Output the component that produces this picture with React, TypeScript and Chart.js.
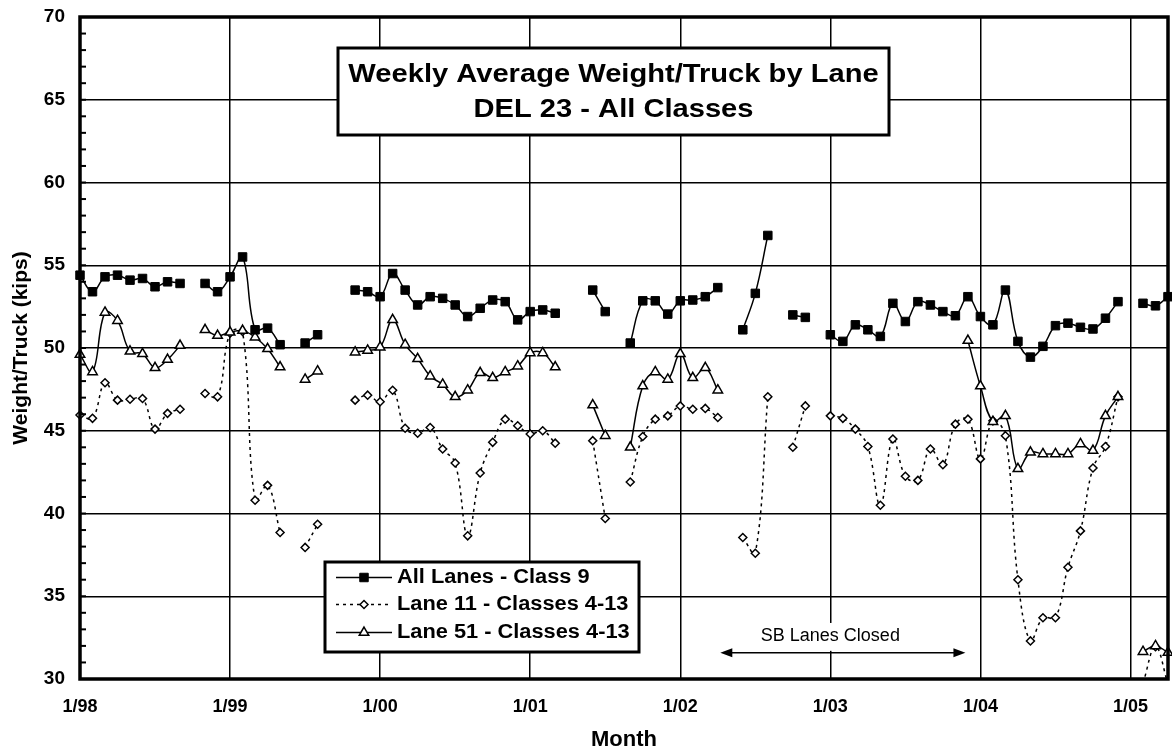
import React, { useEffect, useRef } from 'react';
import { Chart, registerables } from 'chart.js';

Chart.register(...registerables);

// Month offsets from January 1998 (one point per month)
const months: number[] = Array.from({ length: 88 }, (_, i) => i);

const xTickMonths = [0, 12, 24, 36, 48, 60, 72, 84];
const xTickLabels = ['1/98', '1/99', '1/00', '1/01', '1/02', '1/03', '1/04', '1/05'];

const yMin = 30;
const yMax = 70;
const yStep = 5;

const seriesNames = ['All Lanes - Class 9', 'Lane 11 - Classes 4-13', 'Lane 51 - Classes 4-13'];

// All Lanes - Class 9 (kips)
const allLanesClass9: (number | null)[] = [
  54.4, 53.4, 54.3, 54.4, 54.1, 54.2, 53.7, 54.0, 53.9, null,
  53.9, 53.4, 54.3, 55.5, 51.1, 51.2, 50.2, null, 50.3, 50.8,
  null, null, 53.5, 53.4, 53.1, 54.5, 53.5, 52.6, 53.1, 53.0,
  52.6, 51.9, 52.4, 52.9, 52.8, 51.7, 52.2, 52.3, 52.1, null,
  null, 53.5, 52.2, null, 50.3, 52.85, 52.85, 52.05, 52.85, 52.9,
  53.1, 53.65, null, 51.1, 53.3, 56.8, null, 52.0, 51.85, null,
  50.8, 50.4, 51.4, 51.1, 50.7, 52.7, 51.6, 52.8, 52.6, 52.2,
  51.95, 53.1, 51.9, 51.4, 53.5, 50.4, 49.45, 50.1, 51.35, 51.5,
  51.25, 51.15, 51.8, 52.8, null, 52.7, 52.55, 53.1,
];

// Lane 11 - Classes 4-13 (kips)
const lane11: (number | null)[] = [
  45.95, 45.75, 47.9, 46.85, 46.9, 46.95, 45.1, 46.05, 46.3, null,
  47.25, 47.05, 50.9, 51.0, 40.8, 41.7, 38.85, null, 37.95, 39.35,
  null, null, 46.85, 47.15, 46.75, 47.45, 45.15, 44.85, 45.2, 43.9,
  43.05, 38.65, 42.45, 44.3, 45.7, 45.3, 44.8, 45.0, 44.25, null,
  null, 44.4, 39.7, null, 41.9, 44.65, 45.7, 45.9, 46.5, 46.3,
  46.35, 45.8, null, 38.55, 37.6, 47.05, null, 44.0, 46.5, null,
  45.9, 45.75, 45.1, 44.05, 40.5, 44.5, 42.25, 42.0, 43.9, 42.95,
  45.4, 45.7, 43.3, 45.6, 44.7, 36.0, 32.3, 33.7, 33.7, 36.75,
  38.95, 42.75, 44.05, 47.05, null, 29.75, 31.95, 29.7,
];

// Lane 51 - Classes 4-13 (kips)
const lane51: (number | null)[] = [
  49.6, 48.55, 52.15, 51.65, 49.8, 49.65, 48.8, 49.3, 50.15, null,
  51.1, 50.75, 50.95, 51.05, 50.65, 49.95, 48.85, null, 48.1, 48.6,
  null, null, 49.75, 49.85, 50.05, 51.7, 50.2, 49.35, 48.3, 47.8,
  47.05, 47.45, 48.5, 48.2, 48.55, 48.9, 49.7, 49.7, 48.85, null,
  null, 46.55, 44.7, null, 44.0, 47.7, 48.55, 48.1, 49.65, 48.2,
  48.8, 47.45, null, null, null, null, null, null, null, null,
  null, null, null, null, null, null, null, null, null, null,
  null, 50.45, 47.7, 45.55, 45.9, 42.7, 43.7, 43.6, 43.6, 43.6,
  44.2, 43.8, 45.9, 47.05, null, 31.65, 32.0, 31.6,
];

const titleLines = ['Weekly Average Weight/Truck by Lane', 'DEL 23 - All Classes'];
const annotationText = 'SB Lanes Closed';
const annotationStartMonth = 51.2;
const annotationEndMonth = 70.8;
const annotationTextMonth = 60;
const annotationTextValue = 32.6;
const annotationArrowValue = 31.58;

const FONT = "'Liberation Sans', Arial, Helvetica, sans-serif";
const PLOT_RIGHT_MARGIN = 4;

function drawMarker(ctx: CanvasRenderingContext2D, style: string, x: number, y: number) {
  ctx.save();
  ctx.strokeStyle = '#000';
  ctx.setLineDash([]);
  if (style === 'rect') {
    const s = Math.SQRT1_2 * 6;
    ctx.fillStyle = '#000';
    ctx.lineWidth = 1;
    ctx.beginPath();
    ctx.rect(x - s, y - s, 2 * s, 2 * s);
    ctx.fill();
    ctx.stroke();
  } else if (style === 'rectRot') {
    const r = 4;
    ctx.fillStyle = '#fff';
    ctx.lineWidth = 1.5;
    ctx.beginPath();
    ctx.moveTo(x - r, y);
    ctx.lineTo(x, y - r);
    ctx.lineTo(x + r, y);
    ctx.lineTo(x, y + r);
    ctx.closePath();
    ctx.fill();
    ctx.stroke();
  } else {
    const r = 5.5;
    ctx.fillStyle = '#fff';
    ctx.lineWidth = 1.5;
    ctx.beginPath();
    ctx.moveTo(x, y - r);
    ctx.lineTo(x + r * Math.sin((2 * Math.PI) / 3), y - r * Math.cos((2 * Math.PI) / 3));
    ctx.lineTo(x + r * Math.sin((4 * Math.PI) / 3), y - r * Math.cos((4 * Math.PI) / 3));
    ctx.closePath();
    ctx.fill();
    ctx.stroke();
  }
  ctx.restore();
}

function scaledText(
  ctx: CanvasRenderingContext2D,
  text: string,
  x: number,
  y: number,
  font: string,
  sx: number,
  align: CanvasTextAlign
) {
  ctx.save();
  ctx.translate(x, y);
  ctx.scale(sx, 1);
  ctx.font = font;
  ctx.fillStyle = '#000';
  ctx.textAlign = align;
  ctx.textBaseline = 'middle';
  ctx.fillText(text, 0, 0);
  ctx.restore();
}

const overlayPlugin = {
  id: 'overlay',
  afterLayout(chart: any) {
    const a = chart.chartArea;
    const target = chart.width - PLOT_RIGHT_MARGIN;
    if (a && Math.abs(a.right - target) > 0.01) {
      a.right = target;
      a.width = a.right - a.left;
      const xs = chart.scales.x;
      xs.right = target;
      xs.width = xs.right - xs.left;
      xs.configure();
    }
  },
  beforeDraw(chart: any) {
    const { ctx, width, height } = chart;
    ctx.save();
    ctx.fillStyle = '#fff';
    ctx.fillRect(0, 0, width, height);
    ctx.restore();
  },
  afterDraw(chart: any) {
    const { ctx, chartArea: a, scales } = chart;
    const xs = scales.x;
    const ys = scales.y;
    ctx.save();

    // minor ticks on the y axis (inside)
    ctx.strokeStyle = '#000';
    ctx.lineWidth = 2;
    for (let v = yMin; v <= yMax; v += 1) {
      const py = ys.getPixelForValue(v);
      ctx.beginPath();
      ctx.moveTo(a.left, py);
      ctx.lineTo(a.left + 6, py);
      ctx.stroke();
    }

    // plot border
    ctx.lineWidth = 3.5;
    ctx.strokeRect(a.left, a.top, a.right - a.left, a.bottom - a.top);

    // title box
    const tb = { l: a.left + 258, t: a.top + 31, r: a.left + 809, b: a.top + 118 };
    ctx.fillStyle = '#fff';
    ctx.fillRect(tb.l, tb.t, tb.r - tb.l, tb.b - tb.t);
    ctx.lineWidth = 3;
    ctx.strokeRect(tb.l, tb.t, tb.r - tb.l, tb.b - tb.t);
    const tcx = (tb.l + tb.r) / 2;
    scaledText(ctx, titleLines[0], tcx, tb.t + 26.5, `bold 26px ${FONT}`, 1.12, 'center');
    scaledText(ctx, titleLines[1], tcx, tb.t + 61.5, `bold 26px ${FONT}`, 1.12, 'center');

    // legend box
    const lb = { l: a.left + 245, t: a.top + 545, r: a.left + 559, b: a.top + 635 };
    ctx.fillStyle = '#fff';
    ctx.fillRect(lb.l, lb.t, lb.r - lb.l, lb.b - lb.t);
    ctx.lineWidth = 3;
    ctx.strokeRect(lb.l, lb.t, lb.r - lb.l, lb.b - lb.t);
    const rows = [lb.t + 15.5, lb.t + 42.5, lb.t + 70.5];
    const styles = ['rect', 'rectRot', 'triangle'];
    const x0 = lb.l + 11;
    const x1 = lb.l + 67;
    const xm = lb.l + 39;
    for (let i = 0; i < 3; i++) {
      ctx.save();
      ctx.strokeStyle = '#000';
      ctx.lineWidth = 1.5;
      ctx.setLineDash(i === 1 ? [3, 4] : []);
      ctx.beginPath();
      ctx.moveTo(x0, rows[i]);
      ctx.lineTo(x1, rows[i]);
      ctx.stroke();
      ctx.restore();
      drawMarker(ctx, styles[i], xm, rows[i]);
      scaledText(ctx, seriesNames[i], lb.l + 72, rows[i], `bold 20px ${FONT}`, 1.09, 'left');
    }

    // SB Lanes Closed annotation
    const tx = xs.getPixelForValue(annotationTextMonth);
    const ty = ys.getPixelForValue(annotationTextValue);
    const ay = ys.getPixelForValue(annotationArrowValue);
    ctx.font = `18px ${FONT}`;
    const tw = ctx.measureText(annotationText).width;
    ctx.fillStyle = '#fff';
    ctx.fillRect(tx - tw / 2 - 4, ty - 13, tw + 8, ay - ty + 11);
    ctx.fillStyle = '#000';
    ctx.textAlign = 'center';
    ctx.textBaseline = 'middle';
    ctx.fillText(annotationText, tx, ty);

    const ax0 = xs.getPixelForValue(annotationStartMonth);
    const ax1 = xs.getPixelForValue(annotationEndMonth);
    ctx.strokeStyle = '#000';
    ctx.lineWidth = 1.5;
    ctx.beginPath();
    ctx.moveTo(ax0 + 8, ay);
    ctx.lineTo(ax1 - 8, ay);
    ctx.stroke();
    ctx.fillStyle = '#000';
    ctx.beginPath();
    ctx.moveTo(ax0, ay);
    ctx.lineTo(ax0 + 12, ay - 4.5);
    ctx.lineTo(ax0 + 12, ay + 4.5);
    ctx.closePath();
    ctx.fill();
    ctx.beginPath();
    ctx.moveTo(ax1, ay);
    ctx.lineTo(ax1 - 12, ay - 4.5);
    ctx.lineTo(ax1 - 12, ay + 4.5);
    ctx.closePath();
    ctx.fill();

    ctx.restore();
  },
};

const zeroPadding = (s: any) => {
  s.paddingTop = 0;
  s.paddingBottom = 0;
  s.paddingLeft = 0;
  s.paddingRight = 0;
};

export default function App() {
  const canvasRef = useRef<HTMLCanvasElement | null>(null);

  useEffect(() => {
    if (!canvasRef.current) return;
    Chart.defaults.font.family = FONT;
    Chart.defaults.color = '#000';

    const toPoints = (vals: (number | null)[]) => months.map((m, i) => ({ x: m, y: vals[i] }));
    const clip = { left: 8, right: 8, top: 0, bottom: 0 };

    const chart = new Chart(canvasRef.current, {
      type: 'line',
      data: {
        datasets: [
          {
            label: seriesNames[0],
            data: toPoints(allLanesClass9) as any,
            borderColor: '#000',
            borderWidth: 1.5,
            tension: 0.4,
            pointStyle: 'rect',
            pointRadius: 6,
            pointBackgroundColor: '#000',
            pointBorderColor: '#000',
            pointBorderWidth: 1,
            spanGaps: false,
            order: 0,
            clip: clip as any,
          },
          {
            label: seriesNames[1],
            data: toPoints(lane11) as any,
            borderColor: '#000',
            borderWidth: 1.5,
            borderDash: [3, 4],
            tension: 0.4,
            pointStyle: 'rectRot',
            pointRadius: 4,
            pointBackgroundColor: '#fff',
            pointBorderColor: '#000',
            pointBorderWidth: 1.5,
            spanGaps: false,
            order: 2,
            clip: clip as any,
          },
          {
            label: seriesNames[2],
            data: toPoints(lane51) as any,
            borderColor: '#000',
            borderWidth: 1.5,
            tension: 0.4,
            pointStyle: 'triangle',
            pointRadius: 5.5,
            pointBackgroundColor: '#fff',
            pointBorderColor: '#000',
            pointBorderWidth: 1.5,
            spanGaps: false,
            order: 1,
            clip: clip as any,
          },
        ],
      },
      options: {
        responsive: false,
        animation: false,
        events: [],
        layout: { padding: { left: 0, top: 17, right: PLOT_RIGHT_MARGIN, bottom: 0 } },
        plugins: {
          legend: { display: false },
          tooltip: { enabled: false },
          title: { display: false },
        },
        scales: {
          x: {
            type: 'linear',
            min: 0,
            max: 87,
            afterBuildTicks: (s: any) => {
              s.ticks = xTickMonths.map((v) => ({ value: v }));
            },
            afterFit: (s: any) => {
              s.height = 74;
              zeroPadding(s);
            },
            grid: { color: '#000', lineWidth: 1.5, drawTicks: false },
            border: { display: false },
            ticks: {
              autoSkip: false,
              maxRotation: 0,
              padding: 17,
              color: '#000',
              font: { size: 18, weight: 'bold' },
              callback: (v: any) => {
                const i = xTickMonths.indexOf(Number(v));
                return i >= 0 ? xTickLabels[i] : '';
              },
            },
            title: {
              display: true,
              text: 'Month',
              color: '#000',
              font: { size: 22, weight: 'bold' },
              padding: { top: 0, bottom: 0 },
            },
          },
          y: {
            type: 'linear',
            min: yMin,
            max: yMax,
            afterFit: (s: any) => {
              s.width = 80;
              zeroPadding(s);
            },
            grid: { color: '#000', lineWidth: 1.5, drawTicks: false },
            border: { display: false },
            ticks: {
              stepSize: yStep,
              padding: 15,
              color: '#000',
              font: { size: 19, weight: 'bold' },
            },
            title: {
              display: true,
              text: 'Weight/Truck (kips)',
              color: '#000',
              font: { size: 21, weight: 'bold' },
              padding: { top: 9, bottom: 0 },
            },
          },
        },
      } as any,
      plugins: [overlayPlugin as any],
    });

    return () => chart.destroy();
  }, []);

  return (
    <div style={{ position: 'absolute', left: 0, top: 0, width: 1172, height: 753 }}>
      <canvas ref={canvasRef} width={1172} height={753} style={{ display: 'block' }} />
    </div>
  );
}
